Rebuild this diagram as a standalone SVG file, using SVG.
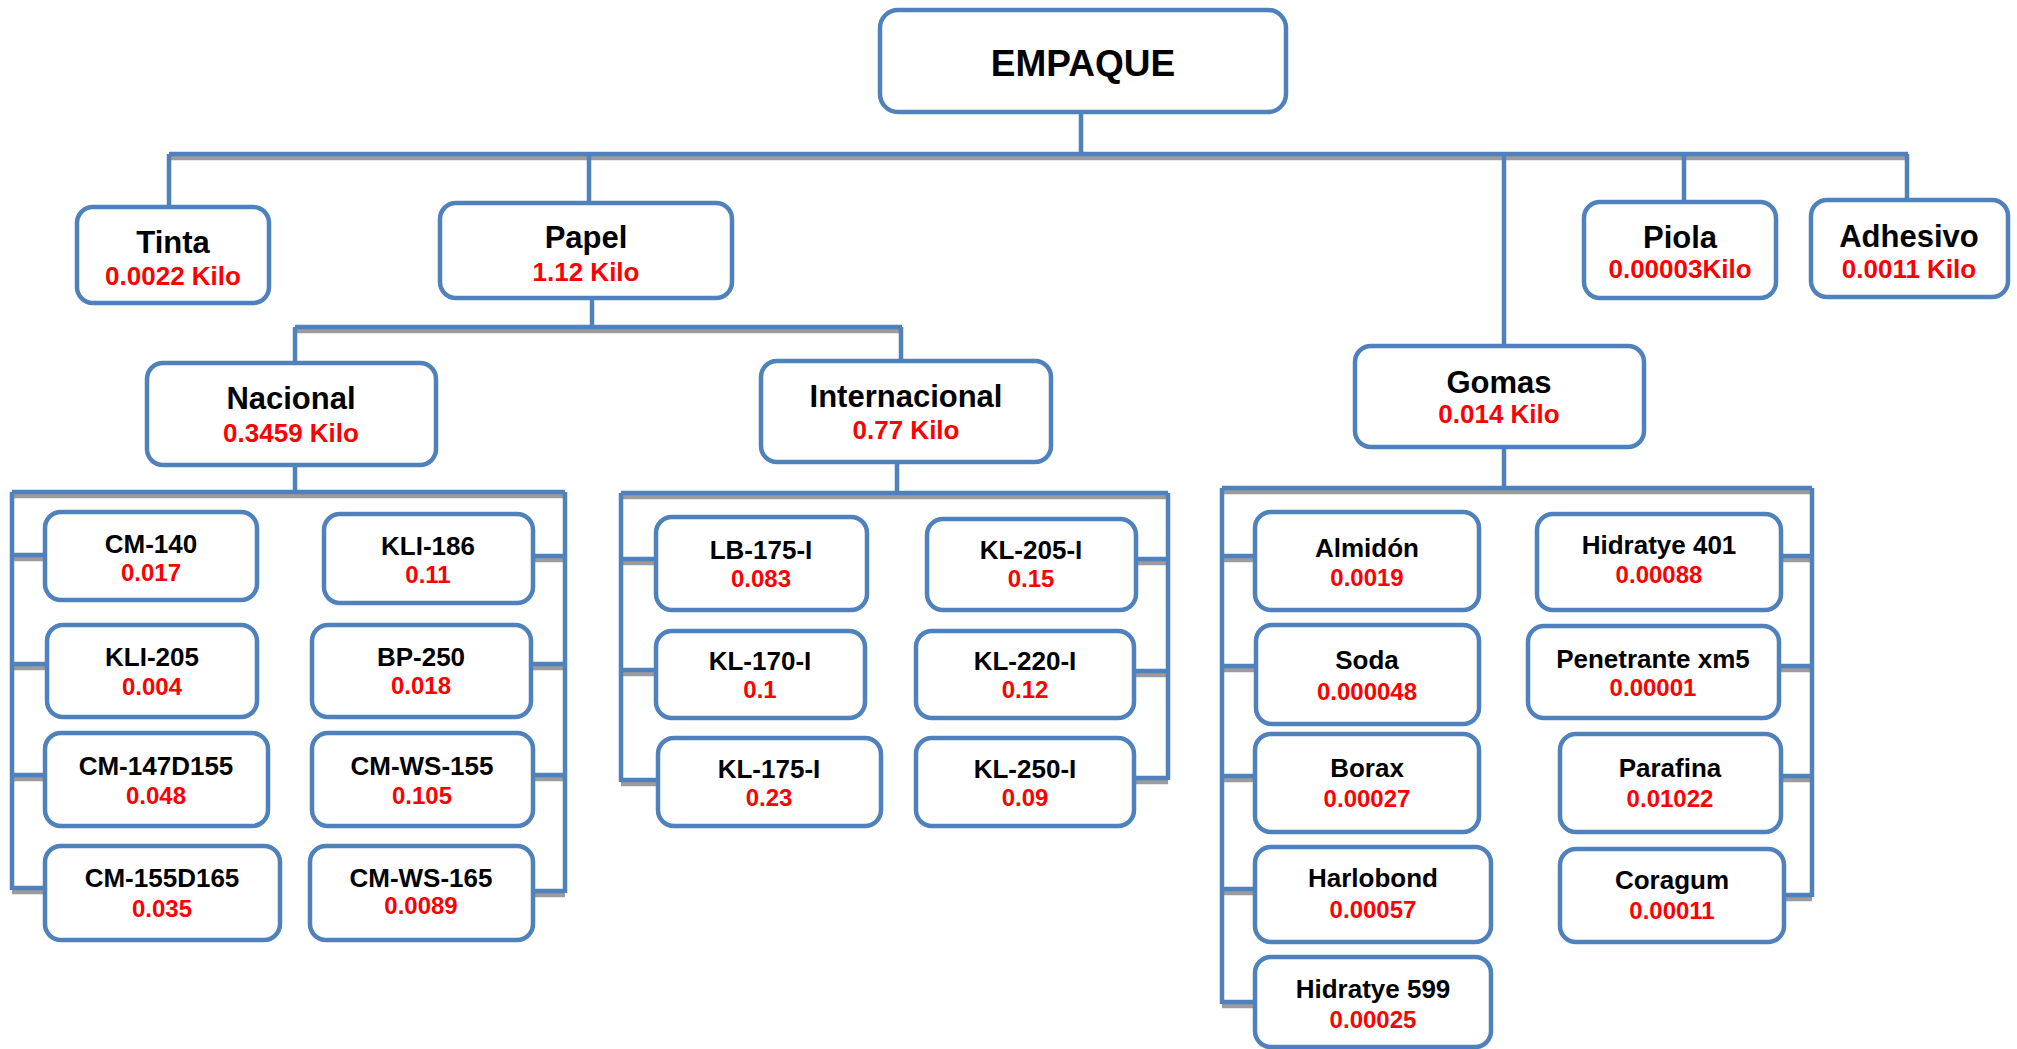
<svg xmlns="http://www.w3.org/2000/svg" width="2017" height="1049" viewBox="0 0 2017 1049">
<style>
.box{fill:#fff;stroke:#4F81BD;stroke-width:4.5}
.ln{fill:none;stroke:#4F81BD;stroke-width:4.5}
.sh{fill:none;stroke:#9C9C9C;stroke-width:4.5}
text{font-family:"Liberation Sans",Arial,sans-serif;font-weight:bold;text-anchor:middle}
.t1{font-size:31px;fill:#000}
.v1{font-size:26px;fill:#FF0000}
.t2{font-size:26px;fill:#000}
.v2{font-size:24px;fill:#FF0000}
</style>
<rect width="2017" height="1049" fill="#fff"/>
<g id="connectors">
<g class="sh" transform="translate(0,4)">
<path d="M169 154H1908"/>
<path d="M295 327H902"/>
<path d="M12 492H565"/>
<path d="M621 493H1168"/>
<path d="M1222 488H1812"/>
<path d="M12 555H45M12 664H47M12 775H45M12 888H45M533 556H565M531 664H565M533 775H565M533 891H565"/>
<path d="M621 559H656M621 670H656M621 780H658M1136 559H1168M1134 671H1168M1134 778H1168"/>
<path d="M1222 556H1255M1222 666H1256M1222 776H1255M1222 889H1255M1222 1002H1255M1781 556H1812M1779 666H1812M1781 776H1812M1784 895H1812"/>
</g>
<g class="ln">
<path d="M1081 112V154"/>
<path d="M169 154H1908"/>
<path d="M169 154V207"/>
<path d="M589 154V203"/>
<path d="M1504 154V346"/>
<path d="M1684 154V202"/>
<path d="M1907 154V200"/>
<path d="M592 298V327"/>
<path d="M295 327H902"/>
<path d="M295 327V363"/>
<path d="M901 327V361"/>
<path d="M295 465V492"/>
<path d="M12 492H565"/>
<path d="M12 492V890M565 492V893"/>
<path d="M12 555H45M12 664H47M12 775H45M12 888H45M533 556H565M531 664H565M533 775H565M533 891H565"/>
<path d="M897 462V493"/>
<path d="M621 493H1168"/>
<path d="M621 493V782M1168 493V780"/>
<path d="M621 559H656M621 670H656M621 780H658M1136 559H1168M1134 671H1168M1134 778H1168"/>
<path d="M1504 447V488"/>
<path d="M1222 488H1812"/>
<path d="M1222 488V1004M1812 488V897"/>
<path d="M1222 556H1255M1222 666H1256M1222 776H1255M1222 889H1255M1222 1002H1255M1781 556H1812M1779 666H1812M1781 776H1812M1784 895H1812"/>
</g>
</g>
<g id="n-empaque"><rect class="box" x="880" y="10" width="406" height="102" rx="18"/><text x="1083" y="76" style="font-size:37px">EMPAQUE</text></g>
<g id="n-tinta"><rect class="box" x="77" y="207" width="192" height="96" rx="16"/><text class="t1" x="173" y="253">Tinta</text><text class="v1" x="173" y="285">0.0022 Kilo</text></g>
<g id="n-papel"><rect class="box" x="440" y="203" width="292" height="95" rx="16"/><text class="t1" x="586" y="248">Papel</text><text class="v1" x="586" y="281">1.12 Kilo</text></g>
<g id="n-piola"><rect class="box" x="1584" y="202" width="192" height="96" rx="16"/><text class="t1" x="1680" y="248">Piola</text><text class="v1" x="1680" y="278">0.00003Kilo</text></g>
<g id="n-adhesivo"><rect class="box" x="1811" y="200" width="197" height="97" rx="16"/><text class="t1" x="1909" y="247">Adhesivo</text><text class="v1" x="1909" y="278">0.0011 Kilo</text></g>
<g id="n-nacional"><rect class="box" x="147" y="363" width="289" height="102" rx="16"/><text class="t1" x="291" y="409">Nacional</text><text class="v1" x="291" y="442">0.3459 Kilo</text></g>
<g id="n-internacional"><rect class="box" x="761" y="361" width="290" height="101" rx="16"/><text class="t1" x="906" y="407">Internacional</text><text class="v1" x="906" y="439">0.77 Kilo</text></g>
<g id="n-gomas"><rect class="box" x="1355" y="346" width="289" height="101" rx="16"/><text class="t1" x="1499" y="393">Gomas</text><text class="v1" x="1499" y="423">0.014 Kilo</text></g>
<g id="n-cm140"><rect class="box" x="45" y="512" width="212" height="88" rx="16"/><text class="t2" x="151" y="553">CM-140</text><text class="v2" x="151" y="581">0.017</text></g>
<g id="n-kli186"><rect class="box" x="324" y="514" width="209" height="89" rx="16"/><text class="t2" x="428" y="555">KLI-186</text><text class="v2" x="428" y="583">0.11</text></g>
<g id="n-kli205"><rect class="box" x="47" y="625" width="210" height="92" rx="16"/><text class="t2" x="152" y="666">KLI-205</text><text class="v2" x="152" y="695">0.004</text></g>
<g id="n-bp250"><rect class="box" x="312" y="625" width="219" height="92" rx="16"/><text class="t2" x="421" y="666">BP-250</text><text class="v2" x="421" y="694">0.018</text></g>
<g id="n-cm147d155"><rect class="box" x="45" y="733" width="223" height="93" rx="16"/><text class="t2" x="156" y="775">CM-147D155</text><text class="v2" x="156" y="804">0.048</text></g>
<g id="n-cmws155"><rect class="box" x="312" y="733" width="221" height="93" rx="16"/><text class="t2" x="422" y="775">CM-WS-155</text><text class="v2" x="422" y="804">0.105</text></g>
<g id="n-cm155d165"><rect class="box" x="45" y="846" width="235" height="94" rx="16"/><text class="t2" x="162" y="887">CM-155D165</text><text class="v2" x="162" y="917">0.035</text></g>
<g id="n-cmws165"><rect class="box" x="310" y="846" width="223" height="94" rx="16"/><text class="t2" x="421" y="887">CM-WS-165</text><text class="v2" x="421" y="914">0.0089</text></g>
<g id="n-lb175i"><rect class="box" x="656" y="517" width="211" height="93" rx="16"/><text class="t2" x="761" y="559">LB-175-I</text><text class="v2" x="761" y="587">0.083</text></g>
<g id="n-kl205i"><rect class="box" x="927" y="519" width="209" height="91" rx="16"/><text class="t2" x="1031" y="559">KL-205-I</text><text class="v2" x="1031" y="587">0.15</text></g>
<g id="n-kl170i"><rect class="box" x="656" y="631" width="209" height="87" rx="16"/><text class="t2" x="760" y="670">KL-170-I</text><text class="v2" x="760" y="698">0.1</text></g>
<g id="n-kl220i"><rect class="box" x="916" y="631" width="218" height="87" rx="16"/><text class="t2" x="1025" y="670">KL-220-I</text><text class="v2" x="1025" y="698">0.12</text></g>
<g id="n-kl175i"><rect class="box" x="658" y="738" width="223" height="88" rx="16"/><text class="t2" x="769" y="778">KL-175-I</text><text class="v2" x="769" y="806">0.23</text></g>
<g id="n-kl250i"><rect class="box" x="916" y="738" width="218" height="88" rx="16"/><text class="t2" x="1025" y="778">KL-250-I</text><text class="v2" x="1025" y="806">0.09</text></g>
<g id="n-almidon"><rect class="box" x="1255" y="512" width="224" height="98" rx="16"/><text class="t2" x="1367" y="557">Almidón</text><text class="v2" x="1367" y="586">0.0019</text></g>
<g id="n-hidratye401"><rect class="box" x="1537" y="514" width="244" height="96" rx="16"/><text class="t2" x="1659" y="554">Hidratye 401</text><text class="v2" x="1659" y="583">0.00088</text></g>
<g id="n-soda"><rect class="box" x="1256" y="625" width="223" height="99" rx="16"/><text class="t2" x="1367" y="669">Soda</text><text class="v2" x="1367" y="700">0.000048</text></g>
<g id="n-penetrante"><rect class="box" x="1528" y="626" width="251" height="92" rx="16"/><text class="t2" x="1653" y="668">Penetrante xm5</text><text class="v2" x="1653" y="696">0.00001</text></g>
<g id="n-borax"><rect class="box" x="1255" y="734" width="224" height="98" rx="16"/><text class="t2" x="1367" y="777">Borax</text><text class="v2" x="1367" y="807">0.00027</text></g>
<g id="n-parafina"><rect class="box" x="1560" y="734" width="221" height="98" rx="16"/><text class="t2" x="1670" y="777">Parafina</text><text class="v2" x="1670" y="807">0.01022</text></g>
<g id="n-harlobond"><rect class="box" x="1255" y="847" width="236" height="95" rx="16"/><text class="t2" x="1373" y="887">Harlobond</text><text class="v2" x="1373" y="918">0.00057</text></g>
<g id="n-coragum"><rect class="box" x="1560" y="849" width="224" height="93" rx="16"/><text class="t2" x="1672" y="889">Coragum</text><text class="v2" x="1672" y="919">0.00011</text></g>
<g id="n-hidratye599"><rect class="box" x="1255" y="957" width="236" height="90" rx="16"/><text class="t2" x="1373" y="998">Hidratye 599</text><text class="v2" x="1373" y="1028">0.00025</text></g>
</svg>
